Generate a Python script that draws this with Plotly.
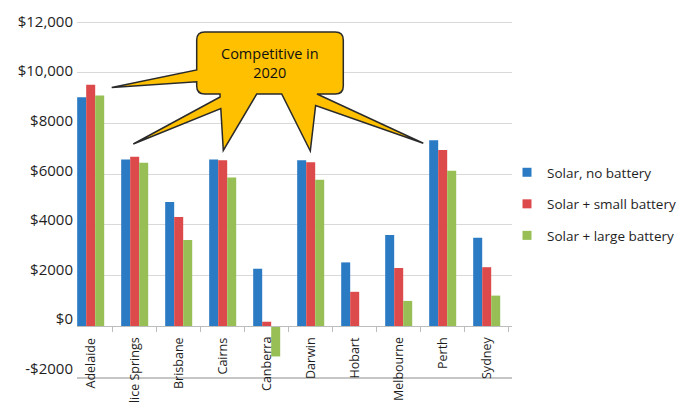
import plotly.graph_objects as go

# ---------------- data ----------------
cities = ["Adelaide", "Alice Springs", "Brisbane", "Cairns", "Canberra",
          "Darwin", "Hobart", "Melbourne", "Perth", "Sydney"]
solar_no_battery = [9030, 6580, 4900, 6580, 2270, 6550, 2520, 3600, 7340, 3490]
solar_small_battery = [9530, 6690, 4310, 6550, 180, 6470, 1360, 2300, 6950, 2330]
solar_large_battery = [9100, 6450, 3400, 5870, -1190, 5780, 0, 1000, 6130, 1210]
series_names = ["Solar, no battery", "Solar + small battery", "Solar + large battery"]
y_tick_values = [-2000, 0, 2000, 4000, 6000, 8000, 10000, 12000]
y_tick_labels = ["-$2000", "$0", "$2000", "$4000", "$6000", "$8000", "$10,000", "$12,000"]
callout_text = "Competitive in<br>2020"

# ---------------- style ----------------
W, H = 696, 403
ML, MR, MT, MB = 77, 184, 20, 26
colors = ["#2b7bc4", "#dc4a4c", "#97bf56"]
FONT = "Open Sans"
TXT = "#1e1e1e"
Y_RANGE = [-2000, 12080]
Y_LABEL_RANGE = [-2351, 12069]   # labels in the original drift slightly from the gridlines
X_RANGE = [-0.311, 9.575]

idx = list(range(len(cities)))
fig = go.Figure()

for name, vals, col in zip(series_names,
                           [solar_no_battery, solar_small_battery, solar_large_battery],
                           colors):
    fig.add_trace(go.Bar(x=idx, y=vals, name=name, marker=dict(color=col, line=dict(width=0)),
                         showlegend=False))
    fig.add_trace(go.Scatter(x=[None], y=[None], mode="markers", name=name, legendgroup=name,
                             marker=dict(symbol="square", size=9, color=col)))

# helper traces so the extra axes render
fig.add_trace(go.Scatter(x=[None], y=[None], xaxis="x2", showlegend=False, hoverinfo="skip"))
fig.add_trace(go.Scatter(x=[None], y=[None], yaxis="y2", showlegend=False, hoverinfo="skip"))

zero_pos = (0 - Y_RANGE[0]) / (Y_RANGE[1] - Y_RANGE[0])

fig.update_layout(
    width=W, height=H,
    margin=dict(l=ML, r=MR, t=MT, b=MB),
    paper_bgcolor="white", plot_bgcolor="white",
    barmode="group", bargap=0.386, bargroupgap=0,
    font=dict(family=FONT, color=TXT),
    xaxis=dict(range=X_RANGE, showticklabels=False, ticks="", showgrid=False, zeroline=False,
               showline=True, linecolor="#c6c6c6", linewidth=2),
    xaxis2=dict(overlaying="x", matches="x", anchor="free", position=zero_pos,
                tickmode="array", tickvals=[i + 0.5 for i in idx], ticks="outside",
                ticklen=5, tickcolor="#bdbdbd", showticklabels=False, showgrid=False,
                zeroline=False, showline=True, linecolor="#bdbdbd", linewidth=1),
    yaxis=dict(range=Y_RANGE, tickmode="array", tickvals=y_tick_values, showticklabels=False,
               showgrid=True, gridcolor="#d9d9d9", gridwidth=1, zeroline=False, ticks=""),
    yaxis2=dict(overlaying="y", side="left", range=Y_LABEL_RANGE, tickmode="array",
                tickvals=y_tick_values, ticktext=y_tick_labels, showgrid=False, zeroline=False,
                ticks="", ticklabelstandoff=3, tickfont=dict(size=15, color=TXT, family=FONT)),
    legend=dict(x=(507 - ML) / (W - ML - MR), xanchor="left",
                y=(H - MB - 204) / (H - MT - MB), yanchor="middle",
                traceorder="grouped", tracegroupgap=11, font=dict(size=13.5, color=TXT),
                bgcolor="rgba(0,0,0,0)"),
    showlegend=True,
)

# category labels, rotated, hanging under the zero line
for i, c in zip(idx, cities):
    fig.add_annotation(x=i, y=0, xref="x", yref="y", text=c, textangle=-90, showarrow=False,
                       xanchor="center", yanchor="top", yshift=-9,
                       font=dict(size=12.5, color=TXT, family=FONT))

# ---------------- callout (pixel layout -> paper coords) ----------------
def P(px, py):
    return f"{(px - ML) / (W - ML - MR):.5f},{(H - MB - py) / (H - MT - MB):.5f}"

bx0, bx1, by0, by1, r = 196.7, 343.3, 32.0, 94.0, 8.0
path = (
    f"M{P(bx0 + r, by0)} L{P(bx1 - r, by0)} Q{P(bx1, by0)} {P(bx1, by0 + r)} "
    f"L{P(bx1, by1 - r)} Q{P(bx1, by1)} {P(bx1 - r, by1)} "
    f"L{P(317, by1)} L{P(423.3, 143.3)} L{P(315.6, 105.6)} L{P(310.3, 151)} "
    f"L{P(281.7, by1)} L{P(256.7, by1)} L{P(223.3, 150.5)} L{P(220.8, 108.5)} "
    f"L{P(133.3, 144)} L{P(220.1, 97)} L{P(220, by1)} "
    f"L{P(bx0 + r, by1)} Q{P(bx0, by1)} {P(bx0, by1 - r)} "
    f"L{P(bx0, 81.7)} L{P(111.7, 87.5)} L{P(bx0, 70)} "
    f"L{P(bx0, by0 + r)} Q{P(bx0, by0)} {P(bx0 + r, by0)} Z"
)
fig.add_shape(type="path", path=path, xref="paper", yref="paper", fillcolor="#FFC000",
              line=dict(color="#2a2a2a", width=1.5), layer="above")

cx, cy = (bx0 + bx1) / 2, 63
fig.add_annotation(x=(cx - ML) / (W - ML - MR), y=(H - MB - cy) / (H - MT - MB),
                   xref="paper", yref="paper", text=callout_text, showarrow=False,
                   xanchor="center", yanchor="middle",
                   font=dict(size=14.5, color="#111111", family=FONT))

fig.write_html("out.html")
